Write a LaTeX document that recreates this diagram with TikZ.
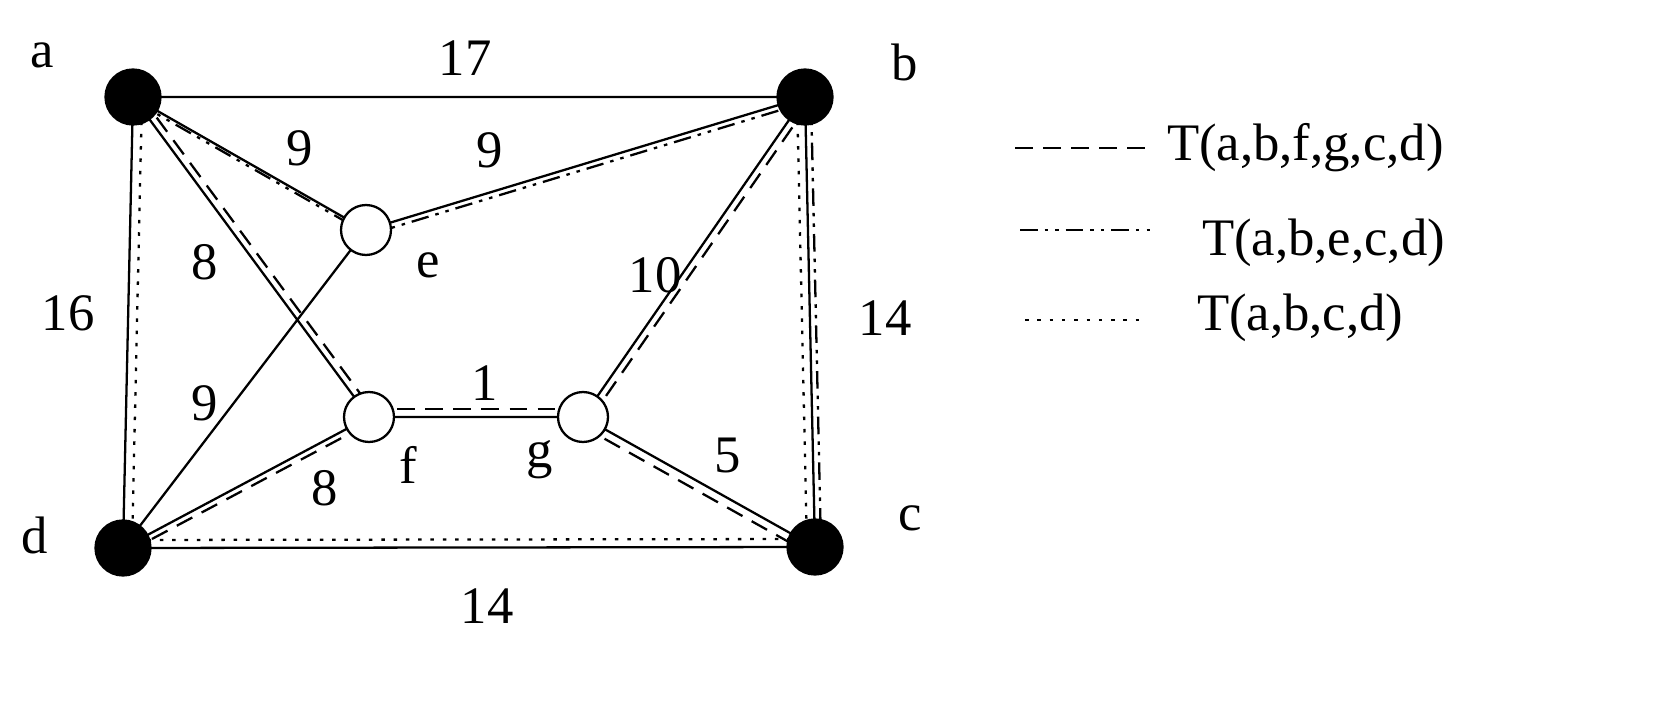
\documentclass[tikz,border=0pt]{standalone}
\usepackage{fontspec}
\setmainfont{Liberation Serif}
\usetikzlibrary{calc}
\begin{document}
\begin{tikzpicture}[x=0.02cm,y=-0.02cm,line width=1.3pt,
  blk/.style={circle,fill=black,draw=black,minimum size=1.1cm,inner sep=0pt},
  wht/.style={circle,fill=white,draw=black,minimum size=1.0cm,inner sep=0pt},
  lbl/.style={font=\fontsize{30}{32}\selectfont},
  dd/.style={dash pattern=on 10pt off 4pt on 2pt off 4pt on 2pt off 4pt},
  ds/.style={dash pattern=on 10pt off 6pt},
  dt/.style={dash pattern=on 2pt off 5pt}]
\useasboundingbox (0,0) rectangle (1665,702);
\coordinate (a) at (133,97); \coordinate (b) at (805,97);
\coordinate (c) at (815,547); \coordinate (d) at (123,548);
\coordinate (e) at (366,230); \coordinate (f) at (369,417); \coordinate (g) at (583,417);
% solid edges
\draw (a)--(b) (a)--(e) (a)--(f) (a)--(d) (e)--(b) (e)--(d) (f)--(g) (f)--(d)
  (g)--(b) (g)--(c) (b)--(c) (d)--(c);
% secondary lines
\draw[dd] ($(a)+(3,5)$)--($(e)+(3,5)$);
\draw[dd] ($(e)+(2,5)$)--($(b)+(2,5)$);
\draw[ds] ($(a)+(7,-2)$)--($(f)+(7,-2)$);
\draw[ds] ($(g)+(7,2)$)--($(b)+(7,2)$);
\draw[ds] ($(f)+(0,-8)$)--($(g)+(0,-8)$);
\draw[ds] ($(f)+(-3,8)$)--($(d)+(-3,8)$);
\draw[ds] ($(g)+(-3,8)$)--($(c)+(-3,8)$);
\draw[dd] ($(b)+(6,0)$)--($(c)+(6,0)$);
\draw[dt] ($(b)+(-8,0)$)--($(c)+(-8,0)$);
\draw[dt] ($(a)+(9,0)$)--($(d)+(9,0)$);
\draw[dt] ($(d)+(0,-8)$)--($(c)+(0,-8)$);
% nodes
\node[blk] (na) at (a) {}; \node[blk] (nb) at (b) {};
\node[blk] (nc) at (c) {}; \node[blk] (nd) at (d) {};
\node[wht] (ne) at (e) {}; \node[wht] (nf) at (f) {}; \node[wht] (ng) at (g) {};
% labels
\node[lbl] (la) at (42,55) {a}; \node[lbl] (lb) at (905,62) {b};
\node[lbl] (lc) at (910,518) {c}; \node[lbl] (ld) at (35,535) {d};
\node[lbl] (le) at (428,265) {e}; \node[lbl] (lf) at (408,465) {f};
\node[lbl] (lg) at (540,460) {g};
\node[lbl] (w1) at (465,58) {17}; \node[lbl] (w2) at (300,148) {9};
\node[lbl] (w3) at (490,150) {9}; \node[lbl] (w4) at (205,262) {8};
\node[lbl] (w5) at (68,313) {16}; \node[lbl] (w6) at (655,275) {10};
\node[lbl] (w7) at (885,318) {14}; \node[lbl] (w8) at (485,383) {1};
\node[lbl] (w9) at (205,403) {9}; \node[lbl] (w10) at (325,488) {8};
\node[lbl] (w11) at (728,455) {5}; \node[lbl] (w12) at (487,606) {14};
% legend
\coordinate (l1a) at (1015,148); \coordinate (l1b) at (1145,148);
\coordinate (l2a) at (1020,230); \coordinate (l2b) at (1155,230);
\coordinate (l3a) at (1025,320); \coordinate (l3b) at (1140,320);
\draw[ds] (l1a)--(l1b); \draw[dd] (l2a)--(l2b); \draw[dt] (l3a)--(l3b);
\node[lbl,anchor=west] (t1) at (1160,148) {T(a,b,f,g,c,d)};
\node[lbl,anchor=west] (t2) at (1195,243) {T(a,b,e,c,d)};
\node[lbl,anchor=west] (t3) at (1190,318) {T(a,b,c,d)};
\end{tikzpicture}
\end{document}
